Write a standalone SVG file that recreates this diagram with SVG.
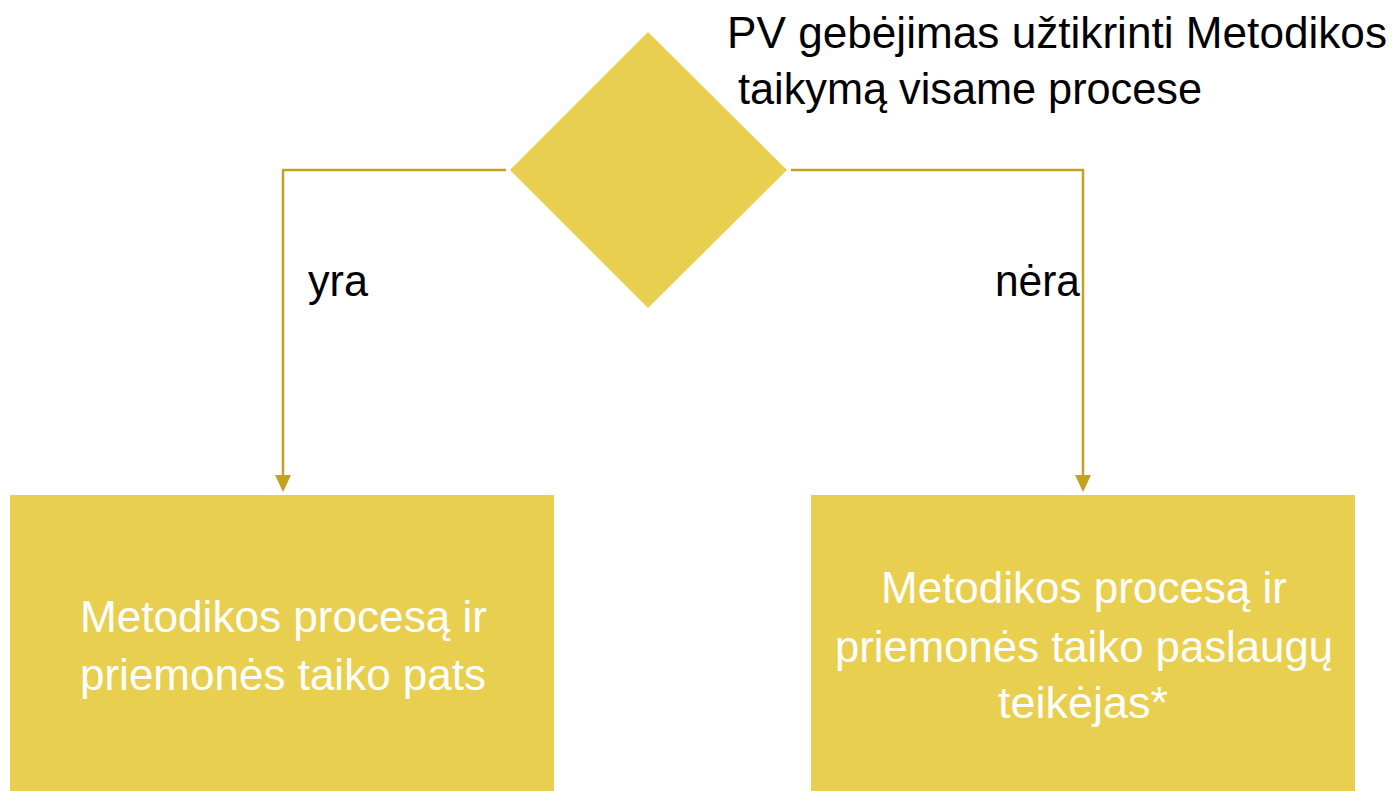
<svg xmlns="http://www.w3.org/2000/svg" width="1395" height="791" viewBox="0 0 1395 791">
<defs>
<style>
.shape{fill:#E9CF50;}
.conn{fill:none;stroke:#C2A21E;stroke-width:2.5;}
.t{font-family:"Liberation Sans",Arial,sans-serif;font-size:44px;}
.dark{fill:#000;}
.white{fill:#fff;}
</style>
<marker id="arr" viewBox="0 0 16 17" refX="8" refY="17" markerWidth="16" markerHeight="17" markerUnits="userSpaceOnUse" orient="auto">
<path d="M0,0 L16,0 L8,17 Z" fill="#C2A21E" transform="rotate(-90 8 8.5)"/>
</marker>
</defs>
<rect width="1395" height="791" fill="#fff"/>
<g id="connectors">
<path class="conn" d="M506,170 H283 V476"/>
<path d="M275,475 L291,475 L283,492 Z" fill="#C2A21E"/>
<path class="conn" d="M791,170 H1083 V476"/>
<path d="M1075,475 L1091,475 L1083,492 Z" fill="#C2A21E"/>
<text class="t dark" x="308" y="296" textLength="60" lengthAdjust="spacingAndGlyphs">yra</text>
<text class="t dark" x="995" y="296" textLength="85" lengthAdjust="spacingAndGlyphs">nėra</text>
</g>
<g id="decision">
<polygon class="shape" points="648,32 787,170 648,308 510,170"/>
<text class="t dark" x="727" y="48" textLength="660" lengthAdjust="spacingAndGlyphs">PV gebėjimas užtikrinti Metodikos</text>
<text class="t dark" x="738" y="104" textLength="464" lengthAdjust="spacingAndGlyphs">taikymą visame procese</text>
</g>
<g id="node-yra">
<rect class="shape" x="10" y="495" width="544" height="296"/>
<text class="t white" x="80" y="632" textLength="407" lengthAdjust="spacingAndGlyphs">Metodikos procesą ir</text>
<text class="t white" x="80" y="690" textLength="406" lengthAdjust="spacingAndGlyphs">priemonės taiko pats</text>
</g>
<g id="node-nera">
<rect class="shape" x="811" y="495" width="544" height="296"/>
<text class="t white" x="881" y="603" textLength="406" lengthAdjust="spacingAndGlyphs">Metodikos procesą ir</text>
<text class="t white" x="835" y="662" textLength="498" lengthAdjust="spacingAndGlyphs">priemonės taiko paslaugų</text>
<text class="t white" x="998" y="718" textLength="170" lengthAdjust="spacingAndGlyphs">teikėjas*</text>
</g>
</svg>
